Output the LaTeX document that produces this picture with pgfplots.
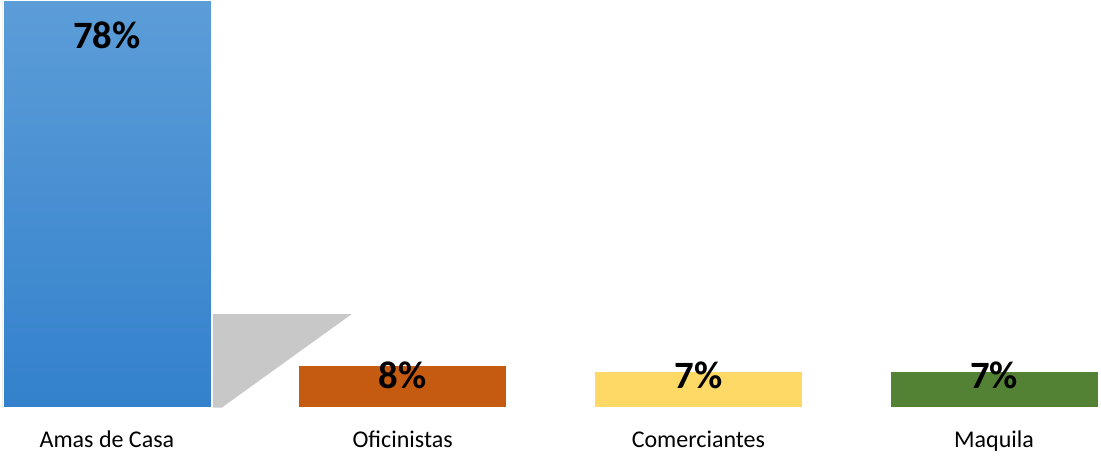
\documentclass[border=0pt]{standalone}
\usepackage{pgfplots}
\pgfplotsset{compat=1.18}
\usepackage{fontspec}
\setmainfont{Carlito}
\definecolor{blueTop}{HTML}{5C9DD8}
\definecolor{blueBot}{HTML}{3381CC}
\definecolor{cOrange}{HTML}{C55A11}
\definecolor{cYellow}{HTML}{FFD966}
\definecolor{cGreen}{HTML}{548235}
\definecolor{shadowGray}{RGB}{200,200,200}
\begin{document}
\begin{tikzpicture}
\begin{axis}[
  width=825.75pt, height=307pt, scale only axis,
  xmin=-0.3615, xmax=3.3615, ymin=0, ymax=78.4,
  axis y line=none,
  axis x line*=bottom,
  x axis line style={draw=none},
  major tick length=0pt,
  xtick={0,1,2,3},
  xticklabels={Amas de Casa, Oficinistas, Comerciantes, Maquila},
  xticklabel style={font=\fontsize{18}{20}\selectfont, text=black, yshift=-14pt},
  ybar, bar shift=0pt, bar width=156pt,
  clip=false,
  /pgf/number format/assume math mode=true,
  nodes near coords={\pgfmathprintnumber{\pgfplotspointmeta}\%},
  every node near coord/.append style={font=\bfseries\fontsize{29}{31}\selectfont, text=black, inner sep=0pt},
]
% decorative shadow beside the first bar
\addplot[draw=none, fill=shadowGray, nodes near coords={}, sharp plot, forget plot] coordinates {(0.358,0) (0.358,17.9) (0.8277,17.9) (0.3885,0)} -- cycle;
\addplot[draw=white, line width=0.5pt, top color=blueTop, bottom color=blueBot,
  every node near coord/.append style={anchor=north, yshift=-15.5pt}] coordinates {(0,78)};
\addplot[draw=white, line width=0.5pt, fill=cOrange,
  every node near coord/.append style={anchor=north, yshift=3pt}] coordinates {(1,8)};
\addplot[draw=white, line width=0.5pt, fill=cYellow,
  every node near coord/.append style={anchor=north, yshift=7.5pt}] coordinates {(2,7)};
\addplot[draw=white, line width=0.5pt, fill=cGreen,
  every node near coord/.append style={anchor=north, yshift=7.5pt}] coordinates {(3,7)};
\path (rel axis cs:0,0) ++(0,-35.75pt) coordinate (bbfix);
\end{axis}
\end{tikzpicture}
\end{document}
